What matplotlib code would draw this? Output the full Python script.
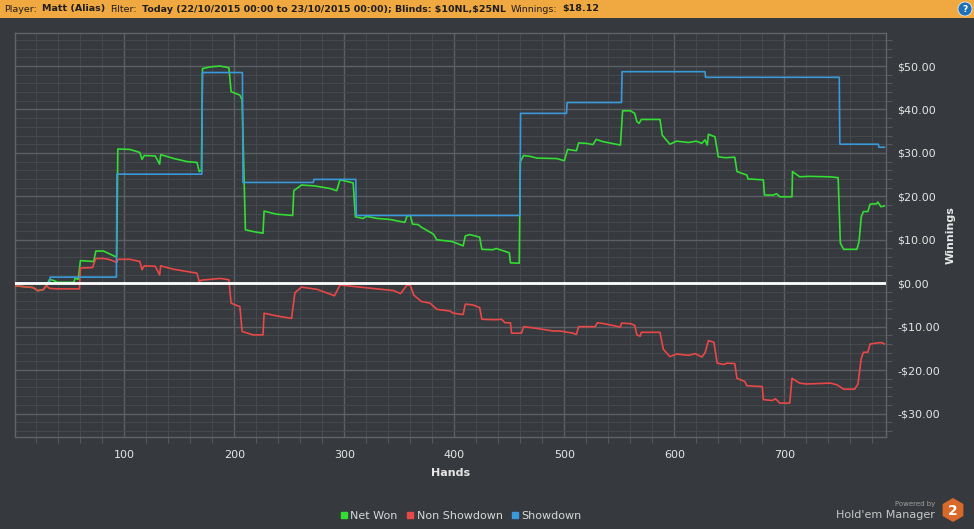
import numpy as np
import matplotlib
matplotlib.use("Agg")
import matplotlib.pyplot as plt
from matplotlib.patches import Rectangle, RegularPolygon, Ellipse
from matplotlib.ticker import MultipleLocator, FuncFormatter

# values (hand number, $ winnings)
net_hands = [1, 17, 21, 26, 29, 32, 36, 39, 54, 55, 58, 60, 72, 74, 81, 87, 92, 93,
             94, 105, 114, 116, 118, 128, 132, 133, 145, 157, 166, 168, 170, 171,
             178, 187, 195, 197, 205, 207, 210, 217, 226, 227, 238, 253, 254, 261,
             273, 287, 293, 296, 301, 308, 310, 317, 320, 330, 341, 351, 355, 357,
             360, 362, 367, 370, 381, 384, 398, 408, 410, 414, 423, 425, 435, 438,
             444, 450, 451, 459, 460, 463, 469, 475, 493, 500, 503, 511, 513, 520,
             526, 529, 535, 551, 553, 560, 564, 566, 568, 570, 587, 589, 596, 602,
             613, 620, 625, 628, 630, 631, 637, 640, 646, 655, 657, 666, 667, 681,
             682, 690, 693, 696, 707, 707.5, 714, 722, 741, 749, 751, 754, 766,
             768, 770, 772, 776, 778, 784, 785, 788, 791]
net_won = [-0.6, -1.0, -1.7, -1.5, -0.6, 0.9, 0.6, 0.2, 0.2, 1.1, 0.9, 5.2, 5.0, 7.4,
           7.4, 6.7, 6.1, 6.1, 30.9, 30.8, 30.1, 28.5, 29.4, 29.3, 27.4, 29.6, 28.7,
           28.0, 27.8, 25.7, 26.0, 49.4, 49.8, 50.0, 49.6, 44.1, 43.3, 42.2, 12.3,
           11.9, 11.5, 16.6, 15.9, 15.6, 21.3, 22.6, 22.4, 21.8, 21.3, 23.8, 23.5,
           23.1, 15.3, 14.9, 15.4, 14.9, 14.7, 14.2, 14.0, 15.5, 15.6, 13.6, 13.5,
           12.9, 11.3, 10.0, 9.6, 8.6, 10.9, 11.2, 10.6, 7.8, 7.7, 8.0, 7.5, 7.0,
           4.7, 4.6, 28.0, 29.4, 29.2, 28.8, 28.7, 28.2, 30.8, 30.5, 32.3, 32.2,
           31.9, 33.1, 32.6, 31.8, 39.7, 39.7, 39.1, 37.2, 36.8, 37.7, 37.7, 34.1,
           32.0, 32.7, 32.4, 32.7, 32.2, 33.0, 31.8, 34.3, 33.7, 29.1, 28.9, 29.0,
           25.7, 24.9, 24.0, 23.8, 20.3, 20.3, 20.6, 19.9, 19.9, 25.7, 24.5, 24.6,
           24.5, 24.3, 9.2, 7.8, 7.8, 9.6, 15.3, 16.5, 16.5, 18.2, 18.3, 18.7,
           17.6, 17.8]

nsd_hands = [1, 17, 21, 26, 29, 32, 39, 59, 60, 71, 74, 81, 87, 93, 94, 105, 114,
             116, 118, 128, 132, 133, 145, 157, 166, 168, 170, 187, 195, 197, 205,
             207, 217, 226, 227, 238, 252, 255, 261, 275, 287, 291, 296, 314, 322,
             345, 351, 357, 360, 363, 370, 378, 384, 396, 399, 408, 410, 417, 423,
             425, 437, 443, 446, 451, 452, 461, 463, 475, 490, 496, 508, 511, 513,
             526, 528, 530, 536, 551, 552, 560, 564, 566, 569, 570, 587, 590, 596,
             602, 613, 619, 625, 628, 631, 636, 639, 645, 648, 655, 657, 664, 666,
             680, 681, 689, 692, 696, 705, 707, 714, 720, 742, 748, 754, 764, 767,
             770, 772, 776, 778, 786, 789, 791]
non_showdown = [-0.6, -1.0, -1.7, -1.5, -0.6, -1.2, -1.3, -1.3, 3.5, 3.6, 5.7, 5.7,
                5.4, 4.8, 5.5, 5.5, 5.0, 3.1, 4.0, 3.9, 1.9, 4.0, 3.2, 2.7, 2.3,
                0.4, 0.7, 1.1, 0.8, -4.6, -5.4, -11.1, -11.9, -11.9, -6.9, -7.5,
                -8.1, -2.2, -0.9, -1.4, -2.5, -2.9, -0.4, -0.9, -1.1, -1.7, -2.4,
                -0.4, -0.5, -2.7, -4.2, -4.6, -6.0, -6.4, -6.9, -7.2, -4.8, -5.0,
                -5.6, -8.3, -8.4, -8.3, -9.1, -9.1, -11.5, -11.5, -10.0, -10.4,
                -11.0, -11.0, -11.5, -11.8, -10.0, -10.0, -10.0, -9.1, -9.3, -10.1,
                -9.2, -9.3, -9.7, -11.9, -12.2, -11.3, -11.3, -15.2, -16.9, -16.3,
                -16.6, -16.2, -17.0, -16.0, -13.2, -13.6, -18.4, -18.7, -18.4,
                -18.5, -21.9, -22.6, -23.6, -23.8, -26.8, -27.0, -26.6, -27.6,
                -27.6, -21.9, -23.0, -23.2, -23.0, -23.4, -24.4, -24.4, -23.2,
                -17.3, -15.9, -15.9, -14.0, -13.7, -13.7, -14.0]

sd_hands = [1, 32, 32.5, 92.7, 93.2, 170.4, 170.9, 207.3, 207.8, 271.8, 272.3,
            310.4, 310.9, 459.7, 460.2, 502, 502.5, 552, 552.5, 627.9, 628.4, 750,
            750.5, 785.5, 786, 791]
showdown = [0.0, 0.0, 1.4, 1.4, 25.1, 25.1, 48.5, 48.5, 23.2, 23.2, 23.9, 23.9,
            15.6, 15.6, 39.1, 39.1, 41.6, 41.6, 48.7, 48.7, 47.4, 47.4, 32.0, 32.0,
            31.3, 31.3]

series_names = ["Net Won", "Non Showdown", "Showdown"]
series_colors = ["#33dd33", "#e84848", "#3a9ad9"]

bg = "#36393d"
W, H = 974, 529
fig = plt.figure(figsize=(W / 100, H / 100), dpi=100, facecolor=bg)

# header bar
fig.patches.append(Rectangle((0, 1 - 18 / H), 1, 18 / H, transform=fig.transFigure,
                             facecolor="#f0a840", edgecolor="none", zorder=0))
hdr_y = 1 - 9 / H
parts = [("Player:", "normal"), ("Matt (Alias)", "bold"), ("Filter:", "normal"),
         ("Today (22/10/2015 00:00 to 23/10/2015 00:00); Blinds: \\$10NL,\\$25NL", "bold"),
         ("Winnings:", "normal"), ("\\$18.12", "bold")]
renderer = fig.canvas.get_renderer()
x = 4 / W
for txt, wt in parts:
    t = fig.text(x, hdr_y, txt, fontsize=6.8, fontweight=wt, color="#1e1e1e",
                 va="center", ha="left")
    bb = t.get_window_extent(renderer=renderer)
    x += (bb.width + 5) / W
fig.patches.append(Ellipse((965 / W, hdr_y), 14 / W, 14 / H, transform=fig.transFigure,
                           facecolor="#1f6fb8", edgecolor="#dfe8f0", lw=0.6))
fig.text(965 / W, hdr_y, "?", fontsize=6.5, fontweight="bold", color="white",
         ha="center", va="center")

ax = fig.add_axes([15 / W, 1 - 437 / H, 871 / W, 404 / H])
ax.set_facecolor(bg)

for h, v, c in zip([net_hands, nsd_hands, sd_hands],
                   [net_won, non_showdown, showdown], series_colors):
    ax.plot(h, v, color=c, lw=1.2, zorder=3)
ax.axhline(0, color="white", lw=2, zorder=4)

ax.set_xlim(0.5, 792.5)
ax.set_ylim(-35.4, 57.6)
ax.xaxis.set_major_locator(MultipleLocator(100))
ax.xaxis.set_minor_locator(MultipleLocator(20))
ax.yaxis.set_major_locator(MultipleLocator(10))
ax.yaxis.set_minor_locator(MultipleLocator(2))
ax.grid(which="major", color="#5c5f63", lw=1.0)
ax.grid(which="minor", color="#45484c", lw=0.8)
ax.set_axisbelow(True)

ax.yaxis.tick_right()
ax.yaxis.set_label_position("right")
ax.yaxis.set_major_formatter(FuncFormatter(
    lambda v, p: f"\\${v:.2f}" if v >= 0 else f"-\\${-v:.2f}"))
ax.tick_params(which="both", colors="#5c5f63", labelcolor="#e6e6e6", labelsize=8)
ax.tick_params(which="major", length=0, pad=8)
ax.tick_params(axis="x", which="major", length=0, pad=9)
ax.tick_params(which="minor", length=4)
for s in ax.spines.values():
    s.set_color("#606367")
    s.set_linewidth(1.0)

ax.set_xlabel("Hands", fontsize=8, fontweight="bold", color="#e6e6e6", labelpad=6)
ax.set_ylabel("Winnings", fontsize=8, fontweight="bold", color="#e6e6e6",
              labelpad=4, rotation=90)

handles = [plt.Line2D([], [], marker="s", ls="none", color=c, markersize=5)
           for c in series_colors]
fig.legend(handles, series_names, loc="center", bbox_to_anchor=(460 / W, 1 - 516 / H),
           ncol=3, frameon=False, fontsize=8, labelcolor="#d8d8d8",
           handletextpad=0.1, columnspacing=0.6, handlelength=1.0)

# branding
fig.text(935 / W, 1 - 504 / H, "Powered by", fontsize=5, color="#a0a0a0",
         ha="right", va="center")
fig.text(935 / W, 1 - 515 / H, "Hold'em Manager", fontsize=8, color="#c8c8c8",
         ha="right", va="center")
fig.patches.append(RegularPolygon((953 / 100, (H - 510) / 100), 6, radius=0.12,
                                  transform=fig.dpi_scale_trans, facecolor="#d8692a",
                                  edgecolor="none"))
fig.text(953 / W, 1 - 511 / H, "2", fontsize=10, fontweight="bold", color="white",
         ha="center", va="center")

fig.savefig("out.png", dpi=100, facecolor=bg)
